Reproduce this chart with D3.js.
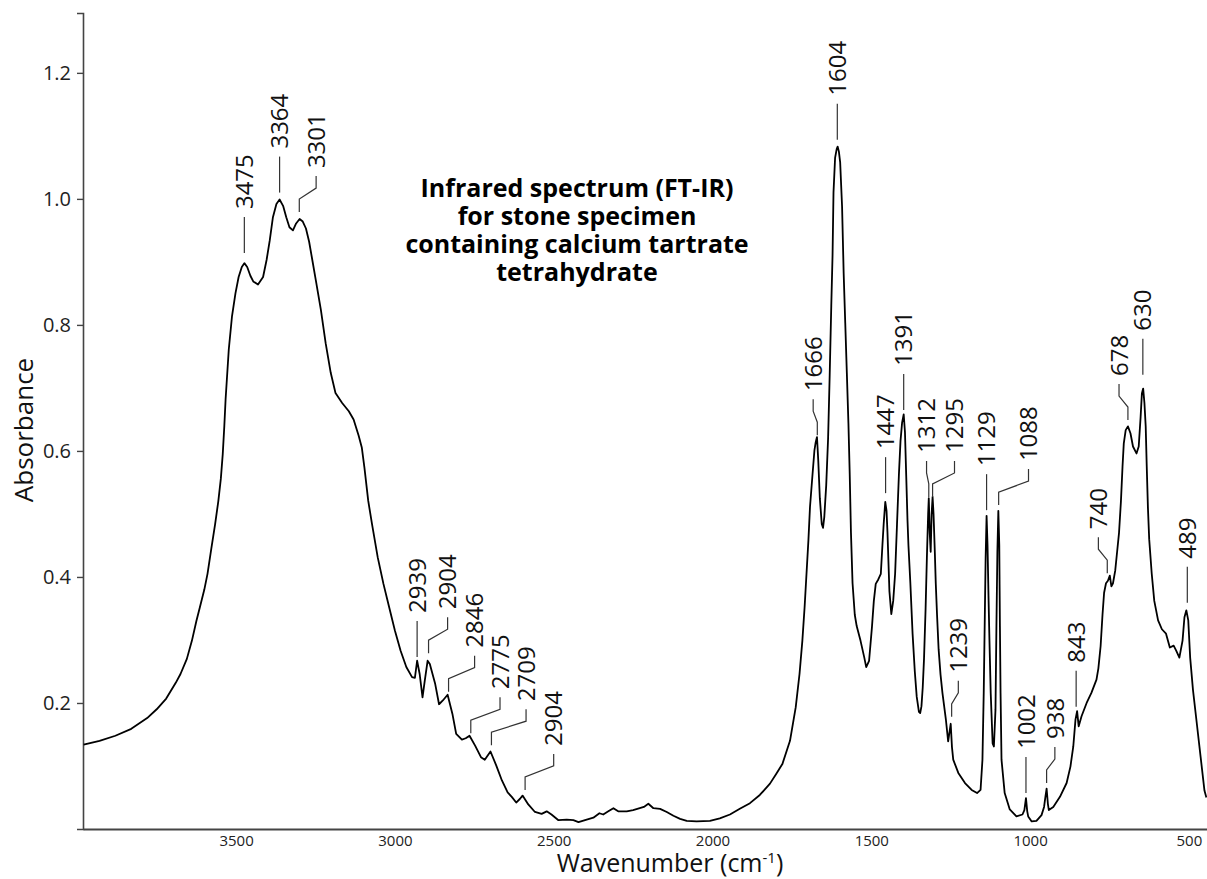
<!DOCTYPE html>
<html>
<head>
<meta charset="utf-8">
<script src="https://cdn.jsdelivr.net/npm/d3@7"></script>
<style>
  body { margin: 0; background: #fff; }
  text { font-family: "Open Sans", "Noto Sans", sans-serif; }
</style>
</head>
<body>
<div id="chart"></div>
<script>
// spectrum trace (wavenumber cm-1, absorbance)
const wavenumbers = [
  3980, 3930, 3880, 3830, 3780, 3750, 3720, 3690, 3675, 3655, 3639, 3625, 3614, 3600, 3590, 3578,
  3566, 3556, 3548, 3542, 3537, 3533, 3523, 3513, 3502, 3492, 3482, 3474, 3465, 3455, 3446, 3431,
  3415, 3404, 3394, 3384, 3373, 3363, 3352, 3342, 3332, 3321, 3311, 3300, 3290, 3280, 3270, 3260,
  3249, 3233, 3218, 3202, 3187, 3166, 3145, 3130, 3114, 3104, 3096, 3084, 3072, 3054, 3036, 3018,
  3000, 2982, 2964, 2946, 2937, 2930, 2922, 2913, 2906, 2897, 2890, 2873, 2861, 2849, 2834, 2819,
  2807, 2789, 2777, 2765, 2747, 2729, 2717, 2699, 2681, 2663, 2645, 2632, 2618, 2606, 2598, 2580,
  2559, 2538, 2522, 2507, 2485, 2459, 2438, 2422, 2396, 2375, 2356, 2344, 2328, 2312, 2297, 2270,
  2250, 2229, 2216, 2202, 2186, 2165, 2144, 2123, 2102, 2081, 2050, 2008, 1977, 1945, 1914, 1882,
  1851, 1819, 1800, 1780, 1756, 1738, 1726, 1717, 1710, 1704, 1698, 1693, 1685, 1679, 1675, 1671,
  1667, 1662, 1656, 1652, 1648, 1642, 1636, 1631, 1626, 1622, 1619, 1614, 1609, 1606, 1602, 1598,
  1592, 1587, 1582, 1577, 1572, 1568, 1564, 1559, 1552, 1546, 1534, 1522, 1516, 1507, 1498, 1492,
  1486, 1478, 1470, 1465, 1461, 1456, 1452, 1449, 1443, 1437, 1431, 1425, 1419, 1413, 1408, 1403,
  1398, 1394, 1390, 1386, 1383, 1377, 1370, 1363, 1357, 1350, 1346, 1342, 1338, 1334, 1329, 1325,
  1321, 1319, 1316, 1313, 1310, 1307, 1304, 1300, 1297, 1293, 1288, 1282, 1276, 1265, 1258, 1250,
  1246, 1242, 1226, 1205, 1184, 1167, 1156, 1150, 1146, 1143, 1140, 1137, 1134, 1131, 1128, 1124,
  1118, 1114, 1109, 1106, 1103, 1100, 1097, 1095, 1093, 1090, 1080, 1064, 1043, 1024, 1018, 1013,
  1009, 1006, 995, 980, 964, 956, 952, 948, 944, 941, 927, 906, 885, 873, 864, 857,
  852, 847, 838, 822, 807, 791, 785, 778, 772, 767, 761, 755, 749, 744, 739, 732,
  726, 720, 714, 709, 705, 699, 692, 684, 676, 665, 658, 652, 648, 644, 640, 636,
  633, 629, 625, 617, 609, 597, 585, 572, 560, 548, 540, 530, 520, 514, 508, 502,
  496, 487, 475, 463, 451, 445
];
const absorbance = [
  0.134, 0.140, 0.148, 0.159, 0.176, 0.190, 0.207, 0.232, 0.246, 0.270, 0.299, 0.330, 0.352, 0.380, 0.405, 0.445,
  0.484, 0.520, 0.556, 0.595, 0.640, 0.682, 0.761, 0.813, 0.850, 0.876, 0.892, 0.898, 0.892, 0.878, 0.869, 0.864,
  0.876, 0.903, 0.934, 0.971, 0.992, 0.999, 0.989, 0.971, 0.955, 0.950, 0.961, 0.968, 0.964, 0.953, 0.932, 0.903,
  0.871, 0.824, 0.771, 0.724, 0.692, 0.676, 0.663, 0.650, 0.624, 0.605, 0.574, 0.521, 0.484, 0.431, 0.389, 0.352,
  0.315, 0.283, 0.257, 0.241, 0.240, 0.267, 0.246, 0.209, 0.235, 0.267, 0.262, 0.230, 0.198, 0.204, 0.213, 0.183,
  0.151, 0.142, 0.144, 0.148, 0.132, 0.114, 0.110, 0.123, 0.101, 0.077, 0.058, 0.051, 0.042, 0.048, 0.053, 0.039,
  0.027, 0.024, 0.028, 0.023, 0.014, 0.015, 0.014, 0.011, 0.015, 0.018, 0.025, 0.023, 0.028, 0.033, 0.028, 0.028,
  0.030, 0.033, 0.035, 0.040, 0.033, 0.032, 0.027, 0.021, 0.016, 0.013, 0.012, 0.013, 0.017, 0.023, 0.032, 0.041,
  0.054, 0.072, 0.087, 0.103, 0.140, 0.193, 0.246, 0.299, 0.352, 0.405, 0.458, 0.511, 0.563, 0.601, 0.614, 0.622,
  0.585, 0.525, 0.484, 0.478, 0.495, 0.545, 0.620, 0.720, 0.830, 0.910, 1.010, 1.065, 1.079, 1.083, 1.075, 1.058,
  0.988, 0.882, 0.803, 0.724, 0.644, 0.565, 0.470, 0.390, 0.340, 0.322, 0.299, 0.272, 0.257, 0.267, 0.320, 0.362,
  0.389, 0.396, 0.405, 0.450, 0.484, 0.519, 0.505, 0.470, 0.378, 0.341, 0.362, 0.405, 0.484, 0.563, 0.616, 0.645,
  0.658, 0.630, 0.560, 0.490, 0.450, 0.390, 0.310, 0.250, 0.210, 0.186, 0.184, 0.195, 0.225, 0.270, 0.350, 0.430,
  0.500, 0.525, 0.470, 0.440, 0.500, 0.527, 0.500, 0.440, 0.390, 0.340, 0.285, 0.245, 0.216, 0.173, 0.139, 0.167,
  0.130, 0.110, 0.089, 0.073, 0.062, 0.057, 0.062, 0.110, 0.216, 0.322, 0.430, 0.497, 0.450, 0.370, 0.300, 0.216,
  0.136, 0.131, 0.189, 0.322, 0.440, 0.505, 0.450, 0.322, 0.216, 0.110, 0.057, 0.031, 0.020, 0.023, 0.030, 0.049,
  0.028, 0.020, 0.012, 0.013, 0.022, 0.035, 0.050, 0.064, 0.040, 0.030, 0.035, 0.051, 0.073, 0.099, 0.131, 0.174,
  0.187, 0.163, 0.179, 0.200, 0.216, 0.237, 0.255, 0.290, 0.340, 0.375, 0.390, 0.394, 0.402, 0.385, 0.390, 0.410,
  0.440, 0.470, 0.520, 0.575, 0.612, 0.633, 0.639, 0.628, 0.607, 0.596, 0.607, 0.654, 0.691, 0.699, 0.676, 0.639,
  0.580, 0.510, 0.460, 0.405, 0.362, 0.331, 0.317, 0.310, 0.288, 0.291, 0.283, 0.272, 0.299, 0.336, 0.347, 0.331,
  0.272, 0.220, 0.167, 0.114, 0.061, 0.050
];

// peak annotations: text, wavenumber of the leader foot, absorbance of the leader foot,
// wavenumber where the label sits (same as foot when the leader is straight)
const peakLabels = ["3475", "3364", "3301", "2939", "2904", "2846", "2775", "2709", "2904",
  "1666", "1604", "1447", "1391", "1312", "1295", "1239", "1129", "1088", "1002", "938",
  "843", "740", "678", "630", "489"];
const peakWn = [3474, 3363, 3301, 2930, 2894, 2831, 2761, 2696, 2590,
  1670, 1607, 1455, 1398, 1319, 1307, 1247, 1137, 1099, 1013, 948,
  855, 757, 692, 645, 505];
const peakAbs = [0.914, 1.010, 0.979, 0.273, 0.279, 0.218, 0.152, 0.133, 0.062,
  0.625, 1.094, 0.533, 0.665, 0.527, 0.527, 0.178, 0.506, 0.514, 0.057, 0.073,
  0.194, 0.406, 0.649, 0.721, 0.359];
const labelWn = [3474, 3363, 3248, 2930, 2834, 2749, 2669, 2587, 2500,
  1683, 1607, 1455, 1398, 1326, 1238, 1226, 1137, 1005, 1013, 922,
  855, 785, 720, 645, 505];

const xTicks = [3500, 3000, 2500, 2000, 1500, 1000, 500];
const yTicks = [0.2, 0.4, 0.6, 0.8, 1.0, 1.2];
const titleLines = ["Infrared spectrum (FT-IR)", "for stone specimen",
  "containing calcium tartrate", "tetrahydrate"];

const width = 1207;
const height = 879;
const margin = { top: 13, right: 0, bottom: 50, left: 83 };

const svg = d3
  .select("#chart")
  .append("svg")
  .attr("width", width)
  .attr("height", height);

//scales (wavenumber runs right to left)
const x = d3.scaleLinear().domain([3982, 443]).range([margin.left, width - margin.right]);
const y = d3.scaleLinear().domain([0, 1.295]).range([height - margin.bottom, margin.top]);

//x axis, no tick marks
const xAxis = svg
  .append("g")
  .attr("transform", `translate(0, ${height - margin.bottom})`)
  .call(d3.axisBottom(x).tickValues(xTicks).tickSize(0).tickPadding(6).tickFormat(d3.format("d")));
xAxis.select(".domain").attr("stroke", "#444").attr("stroke-width", 2);
xAxis.selectAll("text").style("font-size", "15px").attr("fill", "#222");

//y axis
const yAxis = svg
  .append("g")
  .attr("transform", `translate(${margin.left}, 0)`)
  .call(d3.axisLeft(y).tickValues(yTicks).tickSize(6).tickPadding(6).tickFormat(d3.format(".1f")));
yAxis.select(".domain").attr("stroke", "#444").attr("stroke-width", 1.6);
yAxis.selectAll(".tick line").attr("stroke", "#444").attr("stroke-width", 1.4);
yAxis.selectAll("text").style("font-size", "20px").attr("fill", "#222");

//clip so the trace stays inside the frame
svg
  .append("clipPath")
  .attr("id", "plotClip")
  .append("rect")
  .attr("x", margin.left)
  .attr("y", margin.top)
  .attr("width", width - margin.left - margin.right)
  .attr("height", height - margin.top - margin.bottom);

const points = wavenumbers.map((w, i) => ({ w: w, a: absorbance[i] }));

const lineFunc = d3
  .line()
  .x((d) => x(d.w))
  .y((d) => y(d.a));

svg
  .append("path")
  .datum(points)
  .attr("clip-path", "url(#plotClip)")
  .attr("d", lineFunc)
  .attr("fill", "none")
  .attr("stroke", "#000")
  .attr("stroke-width", 1.8)
  .attr("stroke-linejoin", "round");

//peak leaders and rotated labels
const peaks = peakLabels.map((t, i) => ({
  t: t,
  w: peakWn[i],
  a: peakAbs[i],
  lw: labelWn[i],
}));

const leaderLen = 36;
const peakG = svg.append("g");

peakG
  .selectAll(".leader")
  .data(peaks)
  .enter()
  .append("path")
  .attr("class", "leader")
  .attr("d", (d) => {
    const x0 = x(d.w);
    const y0 = y(d.a);
    if (d.lw === d.w) return `M${x0},${y0}V${y0 - leaderLen}`;
    const x1 = x(d.lw);
    return `M${x0},${y0}V${y0 - 13}L${x1},${y0 - 24}V${y0 - leaderLen}`;
  })
  .attr("fill", "none")
  .attr("stroke", "#333")
  .attr("stroke-width", 1.2);

peakG
  .selectAll(".peakLabel")
  .data(peaks)
  .enter()
  .append("text")
  .attr("class", "peakLabel")
  .attr("transform", (d) => `translate(${x(d.lw)}, ${y(d.a) - leaderLen - 8}) rotate(-90)`)
  .attr("dy", "0.36em")
  .attr("text-anchor", "start")
  .style("font-size", "24px")
  .attr("fill", "#111")
  .text((d) => d.t);

//chart title inside the plot
svg
  .append("text")
  .attr("x", 577)
  .attr("y", 197)
  .attr("text-anchor", "middle")
  .style("font-size", "25px")
  .style("font-weight", "bold")
  .attr("fill", "#000")
  .selectAll("tspan")
  .data(titleLines)
  .enter()
  .append("tspan")
  .attr("x", 577)
  .attr("dy", (d, i) => (i === 0 ? 0 : 28))
  .text((d) => d);

//axis labels
svg
  .append("text")
  .attr("text-anchor", "middle")
  .attr("x", 670)
  .attr("y", 872)
  .style("font-size", "25px")
  .attr("fill", "#111")
  .html('Wavenumber (cm<tspan dy="-9" style="font-size:15px">-1</tspan><tspan dy="9">)</tspan>');

svg
  .append("text")
  .attr("text-anchor", "middle")
  .attr("transform", `translate(33, 430) rotate(-90)`)
  .style("font-size", "26px")
  .attr("fill", "#111")
  .text("Absorbance");
</script>
</body>
</html>
